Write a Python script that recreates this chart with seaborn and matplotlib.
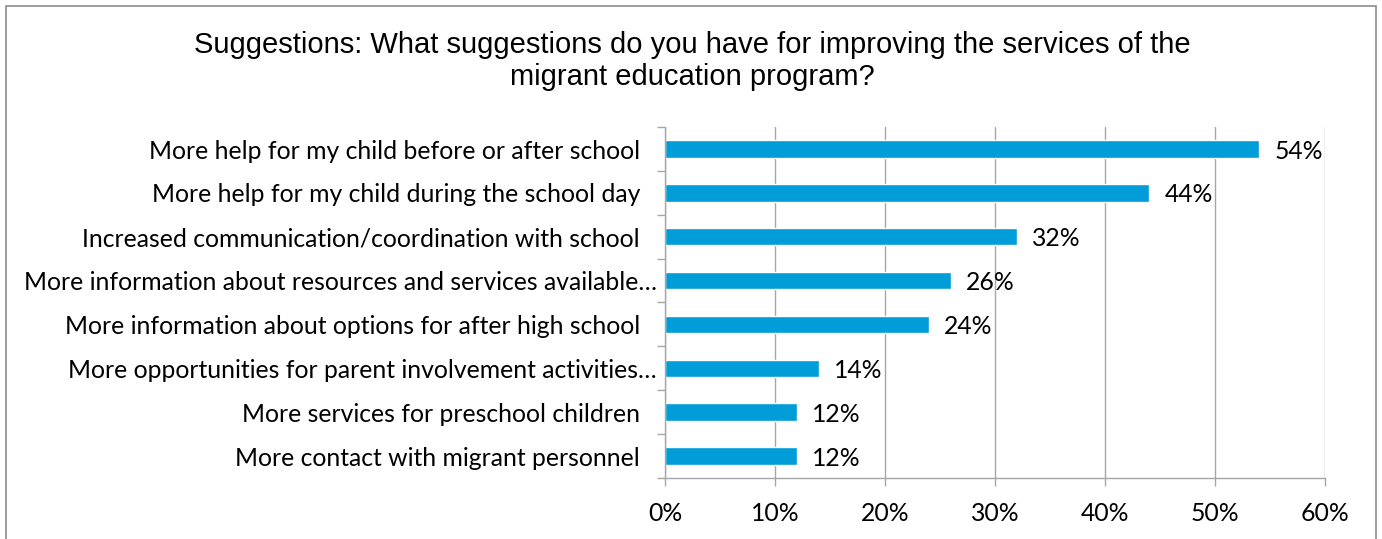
import matplotlib
matplotlib.use("Agg")
import matplotlib.pyplot as plt
from matplotlib.patches import Rectangle
from matplotlib.ticker import FixedLocator, PercentFormatter
import matplotlib.transforms as mtransforms
import seaborn as sns
import pandas as pd

title = ("Suggestions: What suggestions do you have for improving the services of the\n"
         "migrant education program?")
categories = [
    "More help for my child before or after school",
    "More help for my child during the school day",
    "Increased communication/coordination with school",
    "More information about resources and services available\u2026",
    "More information about options for after high school",
    "More opportunities for parent involvement activities\u2026",
    "More services for preschool children",
    "More contact with migrant personnel",
]
percents = [54, 44, 32, 26, 24, 14, 12, 12]
x_ticks = [0, 10, 20, 30, 40, 50, 60]

df = pd.DataFrame({"category": categories, "percent": percents})

sns.set_theme(style="white")
plt.rcParams["font.family"] = ["Lato", "DejaVu Sans"]

fig = plt.figure(figsize=(13.82, 5.39), dpi=100)
ax = fig.add_axes([0.4812, 0.1132, 0.4776, 0.6512])

bar_color = "#009DD9"
sns.barplot(data=df, x="percent", y="category", orient="h", color=bar_color,
            saturation=1, width=0.4, ax=ax)

ax.set_xlim(0, 60)
ax.set_ylim(len(categories) - 0.5, -0.5)
ax.set_xticks(x_ticks)
ax.xaxis.set_major_formatter(PercentFormatter(decimals=0))
ax.set_xlabel("")
ax.set_ylabel("")

grid_gray = "#A6A6A6"
ax.grid(axis="x", color=grid_gray, linewidth=1)
ax.set_axisbelow(True)
for side in ("top", "right"):
    ax.spines[side].set_visible(False)
for side in ("left", "bottom"):
    ax.spines[side].set_color(grid_gray)
    ax.spines[side].set_linewidth(1)

label_size = 17.8

# category boundary tick marks on the value axis
ax.yaxis.set_minor_locator(FixedLocator([i - 0.5 for i in range(len(categories) + 1)]))
ax.tick_params(axis="y", which="major", length=0, labelleft=False)
ax.tick_params(axis="y", which="minor", left=True, length=6, width=1, color=grid_gray, direction="out")
ax.tick_params(axis="x", which="major", bottom=True, length=6, width=1, color=grid_gray,
               direction="out", pad=11, labelsize=label_size, labelcolor="black")

# category names, right-aligned beside the axis; truncated names run a bit further right
ytrans = mtransforms.blended_transform_factory(ax.transAxes, ax.transData)
for i, name in enumerate(categories):
    offset = -6 if name.endswith("\u2026") else -18
    ax.annotate(name, xy=(0, i), xycoords=ytrans, xytext=(offset, -1.5),
                textcoords="offset points", ha="right", va="center",
                fontsize=label_size, color="black")

for i, v in enumerate(percents):
    ax.annotate(f"{v}%", xy=(v, i), xytext=(11, -1.5), textcoords="offset points",
                va="center", ha="left", fontsize=label_size, color="black")

# outer chart frame
fig.patches.append(Rectangle((6 / 1382, -0.05), 1370 / 1382, 1 - 6 / 539 + 0.05,
                             transform=fig.transFigure, fill=False,
                             edgecolor="#8C8C8C", linewidth=1.2))

fig.text(0.5008, 1 - 61 / 539, title, ha="center", va="center", fontsize=21,
         family=["Liberation Sans", "DejaVu Sans"], color="black", linespacing=1.15)

fig.savefig("out.png", dpi=100)
